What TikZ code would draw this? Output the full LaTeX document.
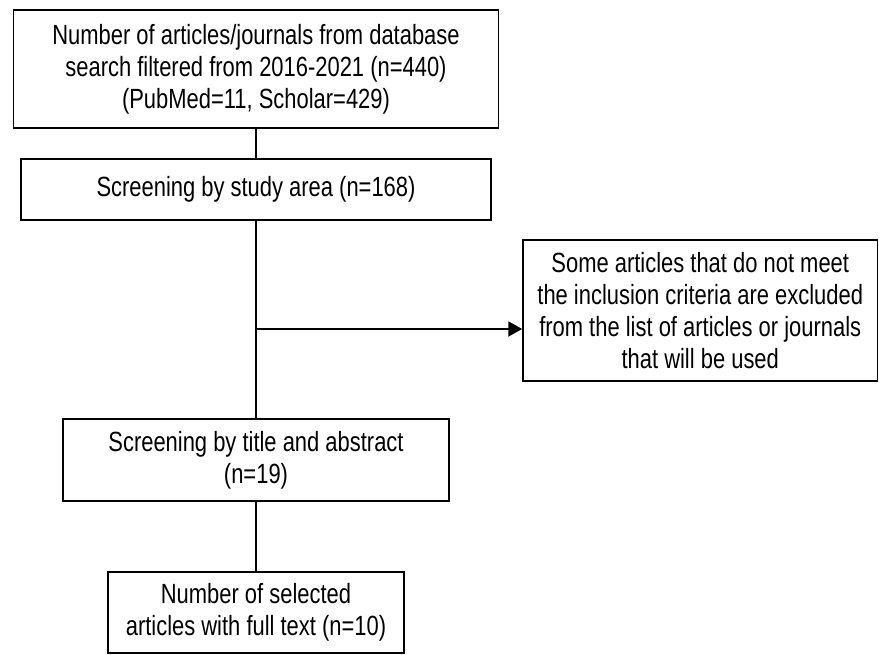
\documentclass[tikz,border=0pt]{standalone}
\usepackage{fontspec}
\setmainfont{Liberation Sans}[FakeStretch=0.79]
\usetikzlibrary{arrows.meta}

\tikzset{every picture/.style={line width=0.75pt}}
\tikzset{flowbox/.style={draw, rectangle, align=center, inner sep=0pt, font=\fontsize{12}{13.8}\selectfont}}

\begin{document}
\begin{tikzpicture}[x=0.432pt,y=0.432pt,yscale=-1,xscale=1]
	\useasboundingbox (0,0) rectangle (879,655);

	% Box: database search
	\node [flowbox, minimum width=209.5pt, minimum height=51pt] (search) at (256,69) {Number of articles/journals from database\\search filtered from 2016-2021 (n=440)\\(PubMed=11, Scholar=429)};
	% Box: study area
	\node [flowbox, minimum width=203pt, minimum height=26.4pt] (area) at (256,189.5) {Screening by study area (n=168)};
	% Box: excluded articles
	\node [flowbox, minimum width=153.1pt, minimum height=60.9pt] (excluded) at (700.25,310.5) {Some articles that do not meet\\the inclusion criteria are excluded\\from the list of articles or journals\\that will be used};
	% Box: title and abstract
	\node [flowbox, minimum width=166.8pt, minimum height=35.4pt] (title) at (256,460) {Screening by title and abstract\\(n=19)};
	% Box: selected articles
	\node [flowbox, minimum width=127.9pt, minimum height=35pt] (selected) at (256,612.5) {Number of selected\\articles with full text (n=10)};

	% Branch point
	\coordinate (split) at (256,329);

	% Connectors
	\draw (search.south) -- (area.north);
	\draw (area.south) -- (title.north);
	\draw [-{Triangle[length=6pt,width=6.5pt]}] (split) -- (split -| excluded.west);
	\draw (title.south) -- (selected.north);

\end{tikzpicture}
\end{document}
